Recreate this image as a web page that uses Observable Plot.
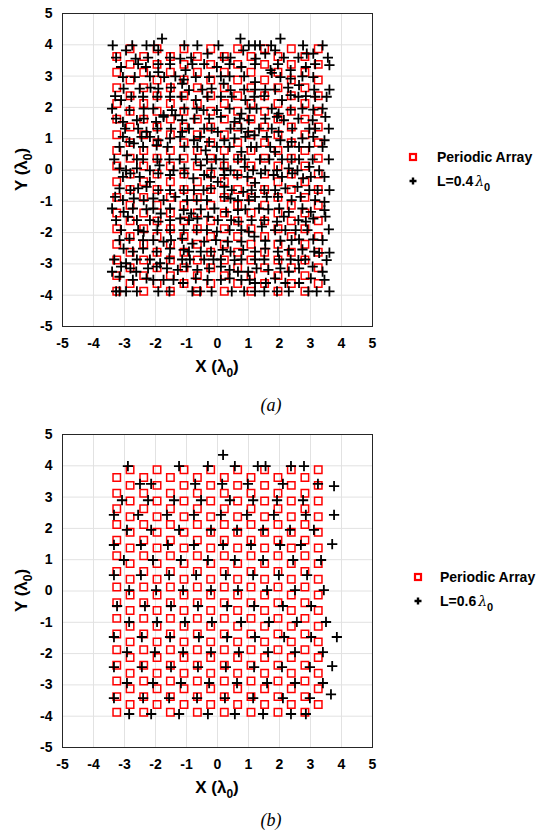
<!DOCTYPE html>
<html><head><meta charset="utf-8">
<script src="https://cdn.jsdelivr.net/npm/d3@7"></script>
<script src="https://cdn.jsdelivr.net/npm/@observablehq/plot@0.6"></script>
<style>
body{margin:0;background:#fff;}
#page{position:relative;width:538px;height:833px;overflow:hidden;background:#fff;}
.panel{position:absolute;left:0;}
.caption{position:absolute;left:0;width:542px;text-align:center;font-family:"Liberation Serif","Times New Roman",serif;font-style:italic;font-size:18px;color:#000;}
</style></head><body>
<div id="page"></div>
<script>
// Axis ticks (both axes, in wavelengths)
const axisTicks = [-5, -4, -3, -2, -1, 0, 1, 2, 3, 4, 5];

// Periodic triangular lattice: column positions and the row positions of even / odd columns
const latticeX = [-3.25, -2.82, -2.38, -1.95, -1.52, -1.08, -0.65, -0.22, 0.22, 0.65, 1.08, 1.52, 1.95, 2.38, 2.82, 3.25];
const rowsEvenCol = [3.625, 3.125, 2.625, 2.125, 1.625, 1.125, 0.625, 0.125, -0.375, -0.875, -1.375, -1.875, -2.375, -2.875, -3.375, -3.875];
const rowsOddCol = [3.875, 3.375, 2.875, 2.375, 1.875, 1.375, 0.875, 0.375, -0.125, -0.625, -1.125, -1.625, -2.125, -2.625, -3.125, -3.625];

// Element positions of the L = 0.4 λ0 array, [x, y]
const arrayL04 = [
  [-1.79,4.20],[0.74,4.20],[2.03,4.20],
  [-3.38,3.98],[-2.75,3.98],[-2.29,3.98],[-2.05,3.98],[-1.91,3.82],[-1.07,3.98],[-0.65,3.98],[0.03,3.98],[1.01,3.98],[1.21,3.98],[1.37,3.98],[1.73,3.98],[2.76,3.98],[3.39,3.98],
  [-3.27,3.59],[-2.95,3.82],[-2.64,3.56],[-2.24,3.59],[-1.53,3.59],[-1.20,3.56],[-0.85,3.59],[-0.32,3.72],[0.17,3.59],[0.42,3.59],[0.83,3.82],[1.23,3.56],[1.54,3.72],[1.86,3.82],[2.14,3.59],[2.61,3.59],[2.88,3.72],[3.09,3.72],[3.56,3.59],
  [-3.11,3.29],[-2.56,3.38],[-2.31,3.29],[-1.91,3.38],[-1.53,3.38],[-1.03,3.19],[-0.81,3.38],[-0.43,3.38],[-0.02,3.29],[0.39,3.38],[0.77,3.29],[1.21,3.38],[1.71,3.19],[1.95,3.38],[2.36,3.19],[2.85,3.29],[3.15,3.38],[3.61,3.35],
  [-3.05,2.97],[-2.67,2.97],[-2.18,2.99],[-1.91,3.13],[-1.72,2.97],[-1.36,2.99],[-1.09,2.89],[-0.70,2.97],[-0.27,2.97],[0.11,2.99],[0.39,2.99],[0.86,2.99],[1.21,2.81],[1.75,3.10],[2.03,2.97],[2.36,2.92],[2.74,2.99],[3.09,2.97],
  [-3.03,2.60],[-2.51,2.60],[-2.16,2.63],[-1.91,2.60],[-1.50,2.63],[-1.14,2.76],[-0.92,2.55],[-0.49,2.57],[-0.19,2.60],[0.20,2.76],[0.42,2.55],[0.86,2.57],[1.21,2.57],[1.54,2.57],[1.86,2.57],[2.28,2.63],[2.63,2.71],[3.12,2.57],[3.61,2.57],
  [-3.30,2.36],[-3.11,2.23],[-2.78,2.34],[-2.40,2.34],[-1.94,2.34],[-1.53,2.34],[-1.16,2.34],[-0.70,2.23],[-0.32,2.34],[0.11,2.34],[0.46,2.34],[0.90,2.23],[1.19,2.34],[1.51,2.36],[2.08,2.23],[2.36,2.39],[2.61,2.34],[2.85,2.36],[3.15,2.34],[3.52,2.34],
  [-3.40,1.96],[-2.84,1.91],[-2.38,1.96],[-2.07,1.96],[-1.74,1.75],[-1.47,1.91],[-1.07,1.96],[-0.67,1.96],[-0.45,1.91],[-0.02,1.91],[0.39,1.96],[0.77,1.80],[1.04,1.96],[1.26,1.96],[1.75,1.96],[1.97,1.80],[2.36,1.93],[2.74,1.96],[3.09,1.93],[3.39,1.96],
  [-3.27,1.64],[-3.05,1.54],[-2.60,1.59],[-2.38,1.64],[-1.98,1.54],[-1.74,1.70],[-1.36,1.75],[-1.14,1.59],[-0.74,1.64],[-0.27,1.64],[0.11,1.70],[0.55,1.54],[0.72,1.64],[1.01,1.59],[1.54,1.64],[1.92,1.70],[2.14,1.59],[2.61,1.64],[3.07,1.59],[3.48,1.70],
  [-2.98,1.32],[-2.56,1.32],[-2.29,1.22],[-1.94,1.32],[-1.50,1.32],[-1.14,1.22],[-0.92,1.32],[-0.43,1.32],[-0.19,1.32],[0.01,1.22],[0.42,1.32],[0.77,1.32],[0.99,1.22],[1.34,1.32],[1.75,1.32],[1.97,1.22],[2.41,1.32],[2.96,1.32],[3.15,1.32],[3.59,1.32],
  [-3.05,1.06],[-2.84,0.90],[-2.45,1.06],[-2.18,1.06],[-1.91,0.95],[-1.53,1.01],[-1.20,1.06],[-0.76,0.95],[-0.56,1.06],[-0.27,0.90],[0.22,0.95],[0.55,1.01],[0.90,1.06],[1.19,1.11],[1.59,1.06],[2.03,0.95],[2.39,0.90],[2.74,1.01],[3.09,1.06],[3.45,0.95],
  [-3.16,0.74],[-2.70,0.85],[-2.40,0.74],[-1.96,0.79],[-1.61,0.74],[-1.07,0.74],[-0.65,0.74],[-0.38,0.63],[-0.02,0.74],[0.39,0.74],[0.77,0.58],[1.08,0.74],[1.26,0.74],[1.70,0.74],[1.86,0.58],[2.28,0.74],[2.63,0.74],[2.96,0.74],[3.39,0.74],
  [-3.33,0.34],[-2.92,0.47],[-2.60,0.34],[-2.40,0.34],[-1.94,0.34],[-1.55,0.34],[-1.22,0.34],[-0.70,0.34],[-0.34,0.34],[-0.05,0.34],[0.20,0.34],[0.66,0.34],[0.88,0.34],[1.37,0.34],[1.67,0.34],[2.08,0.34],[2.39,0.34],[2.63,0.34],[3.07,0.34],[3.59,0.34],
  [-3.16,0.05],[-2.95,-0.01],[-2.60,0.05],[-2.18,-0.01],[-1.87,0.15],[-1.42,-0.01],[-1.07,0.05],[-0.54,0.15],[-0.19,0.05],[0.20,0.05],[0.42,-0.01],[0.88,0.10],[1.15,-0.01],[1.54,-0.01],[1.92,-0.01],[2.30,0.05],[2.58,-0.01],[2.96,0.10],[3.28,-0.01],
  [-3.05,-0.22],[-2.81,-0.11],[-2.51,-0.22],[-2.18,-0.38],[-1.91,-0.11],[-1.53,-0.16],[-1.07,-0.11],[-0.78,-0.27],[-0.43,-0.16],[-0.21,-0.22],[0.01,-0.38],[0.22,-0.16],[0.64,-0.16],[0.97,-0.22],[1.21,-0.41],[1.40,-0.11],[1.81,-0.16],[2.08,-0.22],[2.41,-0.11],[2.76,-0.27],[3.01,-0.22],[3.45,-0.22],
  [-3.16,-0.59],[-2.81,-0.64],[-2.56,-0.59],[-2.29,-0.54],[-1.91,-0.64],[-1.53,-0.64],[-1.09,-0.64],[-0.76,-0.64],[-0.45,-0.64],[-0.21,-0.59],[0.22,-0.54],[0.46,-0.64],[0.83,-0.70],[1.10,-0.64],[1.51,-0.64],[1.86,-0.64],[2.19,-0.59],[2.58,-0.54],[2.96,-0.64],[3.23,-0.64],[3.61,-0.64],
  [-3.30,-0.86],[-3.05,-0.96],[-2.70,-0.91],[-2.38,-0.96],[-2.07,-0.91],[-1.74,-0.96],[-1.36,-0.86],[-0.98,-0.96],[-0.67,-0.96],[-0.34,-0.96],[0.22,-0.86],[0.42,-0.91],[0.66,-0.96],[1.01,-0.96],[1.21,-0.86],[1.59,-0.86],[1.95,-0.86],[2.39,-0.96],[2.68,-0.86],[3.15,-0.96],[3.45,-1.02],
  [-3.40,-1.23],[-3.03,-1.34],[-2.73,-1.23],[-2.29,-1.26],[-2.07,-1.23],[-1.83,-1.39],[-1.53,-1.23],[-1.09,-1.28],[-0.85,-1.39],[-0.54,-1.26],[-0.10,-1.23],[0.28,-1.34],[0.66,-1.28],[0.90,-1.26],[1.34,-1.23],[1.64,-1.26],[1.99,-1.23],[2.30,-1.34],[2.74,-1.23],[3.01,-1.34],[3.45,-1.28],
  [-3.27,-1.60],[-2.89,-1.49],[-2.60,-1.60],[-2.18,-1.60],[-1.91,-1.65],[-1.53,-1.60],[-1.20,-1.55],[-0.92,-1.60],[-0.65,-1.55],[-0.30,-1.49],[0.01,-1.60],[0.44,-1.60],[0.68,-1.65],[1.10,-1.60],[1.51,-1.60],[1.92,-1.65],[2.14,-1.49],[2.61,-1.60],[2.85,-1.65],[3.09,-1.55],[3.48,-1.49],
  [-3.11,-1.92],[-2.56,-1.92],[-2.38,-1.97],[-1.94,-1.92],[-1.53,-1.92],[-1.09,-1.92],[-0.67,-1.92],[-0.34,-1.92],[-0.02,-1.97],[0.39,-1.92],[0.77,-1.92],[1.01,-1.97],[1.43,-1.81],[1.86,-1.92],[2.19,-1.92],[2.52,-1.92],[2.90,-1.92],[3.59,-1.90],
  [-3.16,-2.24],[-2.84,-2.19],[-2.40,-2.24],[-2.07,-2.24],[-1.74,-2.29],[-1.50,-2.24],[-1.14,-2.19],[-0.81,-2.35],[-0.43,-2.29],[-0.05,-2.24],[0.33,-2.29],[0.77,-2.29],[1.19,-2.13],[1.54,-2.26],[2.03,-2.26],[2.39,-2.24],[2.63,-2.22],[3.09,-2.22],[3.39,-2.24],
  [-3.03,-2.51],[-2.73,-2.61],[-2.40,-2.51],[-1.96,-2.61],[-1.53,-2.51],[-1.09,-2.55],[-0.92,-2.61],[-0.54,-2.61],[-0.21,-2.61],[0.17,-2.55],[0.42,-2.61],[0.83,-2.55],[1.21,-2.61],[1.54,-2.51],[1.95,-2.61],[2.30,-2.55],[2.74,-2.54],[3.12,-2.61],[3.28,-2.65],[3.61,-2.64],
  [-3.33,-2.86],[-2.95,-2.98],[-2.60,-2.86],[-2.18,-2.86],[-1.85,-2.98],[-1.55,-2.82],[-1.14,-2.86],[-0.89,-2.86],[-0.43,-2.86],[-0.13,-2.86],[0.11,-2.86],[0.55,-2.88],[0.77,-2.86],[1.21,-2.86],[1.51,-2.86],[1.99,-2.86],[2.36,-2.86],[2.61,-2.88],[2.83,-2.86],[3.52,-2.88],
  [-3.40,-3.25],[-3.11,-3.09],[-2.81,-3.14],[-2.62,-3.25],[-2.24,-3.14],[-1.96,-3.09],[-1.63,-3.14],[-1.28,-3.19],[-1.00,-3.09],[-0.65,-3.19],[-0.27,-3.14],[0.11,-3.09],[0.39,-3.19],[0.66,-3.25],[0.99,-3.25],[1.26,-3.14],[1.64,-3.19],[2.03,-3.14],[2.30,-3.25],[2.63,-3.14],[3.07,-3.09],[3.39,-3.25],
  [-3.16,-3.41],[-2.73,-3.51],[-2.29,-3.46],[-2.07,-3.51],[-1.74,-3.51],[-1.42,-3.51],[-1.11,-3.61],[-0.70,-3.46],[-0.32,-3.51],[0.11,-3.51],[0.39,-3.46],[0.77,-3.51],[1.04,-3.51],[1.21,-3.61],[1.56,-3.61],[1.86,-3.46],[2.19,-3.61],[2.63,-3.61],[3.01,-3.46],[3.45,-3.51],
  [-3.27,-3.88],[-3.16,-3.88],[-2.95,-3.88],[-2.60,-3.88],[-1.91,-3.88],[-1.55,-3.88],[-0.81,-3.88],[-0.56,-3.88],[-0.19,-3.88],[0.46,-3.88],[0.86,-3.88],[1.21,-3.88],[1.51,-3.88],[1.92,-3.88],[2.30,-3.88],[2.93,-3.88],[3.20,-3.88],[3.61,-3.88]
];

// Element positions of the L = 0.6 λ0 array, [x, y]
const arrayL06 = [
  [0.18,4.35],
  [-2.89,3.99],[-1.24,3.99],[-0.31,3.99],[0.56,3.99],[1.30,3.99],[1.55,3.99],[2.37,3.99],[2.79,3.99],
  [-2.50,3.42],[-2.14,3.42],[-0.72,3.42],[0.15,3.42],[0.98,3.42],[2.11,3.42],[3.24,3.42],[3.76,3.35],
  [-3.08,2.90],[-2.24,2.90],[-1.40,2.90],[-0.53,2.90],[0.40,2.90],[1.15,2.90],[1.92,2.90],[2.76,2.90],
  [-3.34,2.43],[-2.56,2.43],[-1.63,2.43],[-0.76,2.43],[0.11,2.43],[0.95,2.43],[1.82,2.43],[2.85,2.43],[3.76,2.43],
  [-2.92,1.95],[-2.14,1.95],[-1.24,1.95],[-0.21,1.95],[0.63,1.95],[1.47,1.95],[2.34,1.95],[3.11,1.95],
  [-3.34,1.47],[-2.47,1.47],[-1.60,1.47],[-0.76,1.47],[0.18,1.47],[1.08,1.47],[2.02,1.47],[2.69,1.47],[3.70,1.50],
  [-3.02,0.99],[-2.08,0.99],[-1.18,0.99],[-0.31,0.99],[0.56,0.99],[1.47,0.99],[2.44,0.99],[3.34,0.99],
  [-3.34,0.51],[-2.47,0.51],[-1.56,0.51],[-0.69,0.51],[0.27,0.51],[1.15,0.51],[1.98,0.51],[2.89,0.51],
  [-2.85,0.03],[-1.98,0.03],[-1.11,0.03],[-0.21,0.03],[0.66,0.03],[1.60,0.03],[2.50,0.03],[3.43,0.03],
  [-3.24,-0.48],[-2.34,-0.48],[-1.50,-0.48],[-0.63,-0.48],[0.31,-0.48],[1.18,-0.48],[2.11,-0.48],[3.02,-0.48],
  [-2.85,-0.99],[-1.95,-0.99],[-1.05,-0.99],[-0.18,-0.99],[0.76,-0.99],[1.66,-0.99],[2.56,-0.99],[3.50,-0.99],
  [-3.34,-1.47],[-2.44,-1.47],[-1.53,-1.47],[-0.60,-1.47],[0.31,-1.47],[1.21,-1.47],[2.15,-1.47],[3.02,-1.47],[3.85,-1.47],
  [-2.92,-1.95],[-2.02,-1.95],[-1.11,-1.95],[-0.21,-1.95],[0.69,-1.95],[1.63,-1.95],[2.50,-1.95],[3.40,-1.95],
  [-3.34,-2.43],[-2.44,-2.43],[-1.50,-2.43],[-0.63,-2.43],[0.27,-2.43],[1.18,-2.43],[2.08,-2.43],[2.98,-2.43],[3.70,-2.40],
  [-2.92,-2.94],[-2.08,-2.94],[-1.18,-2.94],[-0.27,-2.94],[0.63,-2.94],[1.60,-2.94],[2.50,-2.94],[3.40,-2.94],
  [-3.34,-3.42],[-2.40,-3.42],[-1.56,-3.42],[-0.66,-3.42],[0.24,-3.42],[1.15,-3.42],[2.11,-3.42],[2.98,-3.42],[3.66,-3.30],
  [-2.85,-3.93],[-2.14,-3.93],[-1.24,-3.93],[-0.31,-3.93],[0.56,-3.93],[1.47,-3.93],[2.37,-3.93],[2.85,-3.93]
];

const periodic = latticeX.flatMap((x, i) =>
  (i % 2 === 0 ? rowsEvenCol : rowsOddCol).map(y => ({x, y})));

const SANS = "'Liberation Sans', Arial, Helvetica, sans-serif";

function drawPanel(elements, lengthLabel, top, legendX, legendY, textGap) {
  const plot = Plot.plot({
    width: 538,
    height: 380,
    marginLeft: 62,
    marginRight: 166,
    marginTop: 13,
    marginBottom: 54,
    style: {fontFamily: SANS, fontSize: "14px", fontWeight: "bold", color: "#000", background: "#fff", overflow: "hidden"},
    x: {domain: [-5, 5], ticks: axisTicks, tickFormat: d => String(d), tickSize: 0, tickPadding: 12, label: null},
    y: {domain: [-5, 5], ticks: axisTicks, tickFormat: d => String(d), tickSize: 0, tickPadding: 10, label: null},
    marks: [
      Plot.ruleX(axisTicks, {stroke: "#e2e2e2", strokeWidth: 1}),
      Plot.ruleY(axisTicks, {stroke: "#e2e2e2", strokeWidth: 1}),
      Plot.frame({stroke: "#262626", strokeWidth: 1}),
      Plot.dot(periodic, {x: "x", y: "y", symbol: "square", r: 4.2, fill: "none", stroke: "#ff0000", strokeWidth: 1.5}),
      Plot.dot(elements, {x: d => d[0], y: d => d[1], symbol: "plus", r: 3.4, stroke: "#000", strokeWidth: 1.8})
    ]
  });
  const svg = d3.select(plot);
  const sx = plot.scale("x"), sy = plot.scale("y");

  // Axis titles with a subscripted wavelength symbol
  const xt = svg.append("text")
    .attr("x", sx.apply(0)).attr("y", sy.apply(-5) + 46)
    .attr("text-anchor", "middle")
    .style("font-family", SANS).style("font-size", "17px").style("font-weight", "bold").attr("fill", "#000");
  xt.append("tspan").text("X (λ");
  xt.append("tspan").attr("dy", 5).style("font-size", "12px").text("0");
  xt.append("tspan").attr("dy", -5).text(")");

  const yt = svg.append("text")
    .attr("transform", `translate(27,${sy.apply(0)}) rotate(-90)`)
    .attr("text-anchor", "middle")
    .style("font-family", SANS).style("font-size", "17px").style("font-weight", "bold").attr("fill", "#000");
  yt.append("tspan").text("Y (λ");
  yt.append("tspan").attr("dy", 5).style("font-size", "12px").text("0");
  yt.append("tspan").attr("dy", -5).text(")");

  // Legend
  const lg = svg.append("g").attr("text-anchor", "start")
    .style("font-family", SANS).style("font-size", "14px").style("font-weight", "bold").attr("fill", "#000");
  lg.append("rect").attr("x", legendX - 3).attr("y", legendY - 3).attr("width", 6).attr("height", 6)
    .attr("fill", "none").attr("stroke", "#ff0000").attr("stroke-width", 2.2);
  lg.append("text").attr("x", legendX + textGap).attr("y", legendY + 5).text("Periodic Array");
  const py = legendY + 24;
  lg.append("path").attr("d", `M${legendX - 3.5},${py}H${legendX + 3.5}M${legendX},${py - 3.5}V${py + 3.5}`)
    .attr("stroke", "#000").attr("stroke-width", 2.4);
  const lt = lg.append("text").attr("x", legendX + textGap).attr("y", py + 5);
  lt.append("tspan").text(lengthLabel);
  lt.append("tspan").attr("dx", 2).style("font-family", "'DejaVu Serif', serif").style("font-weight", "normal").style("font-style", "italic").text("λ");
  lt.append("tspan").attr("dy", 5).style("font-size", "11px").text("0");

  plot.classList.add("panel");
  plot.style.top = top + "px";
  document.getElementById("page").appendChild(plot);
}

drawPanel(arrayL04, "L=0.4", 0, 413, 157, 24);
drawPanel(arrayL06, "L=0.6", 421, 418, 156, 22);

const page = document.getElementById("page");
[["(a)", 395], ["(b)", 810]].forEach(([t, y]) => {
  const c = document.createElement("div");
  c.className = "caption";
  c.style.top = y + "px";
  c.textContent = t;
  page.appendChild(c);
});
</script>
</body></html>
